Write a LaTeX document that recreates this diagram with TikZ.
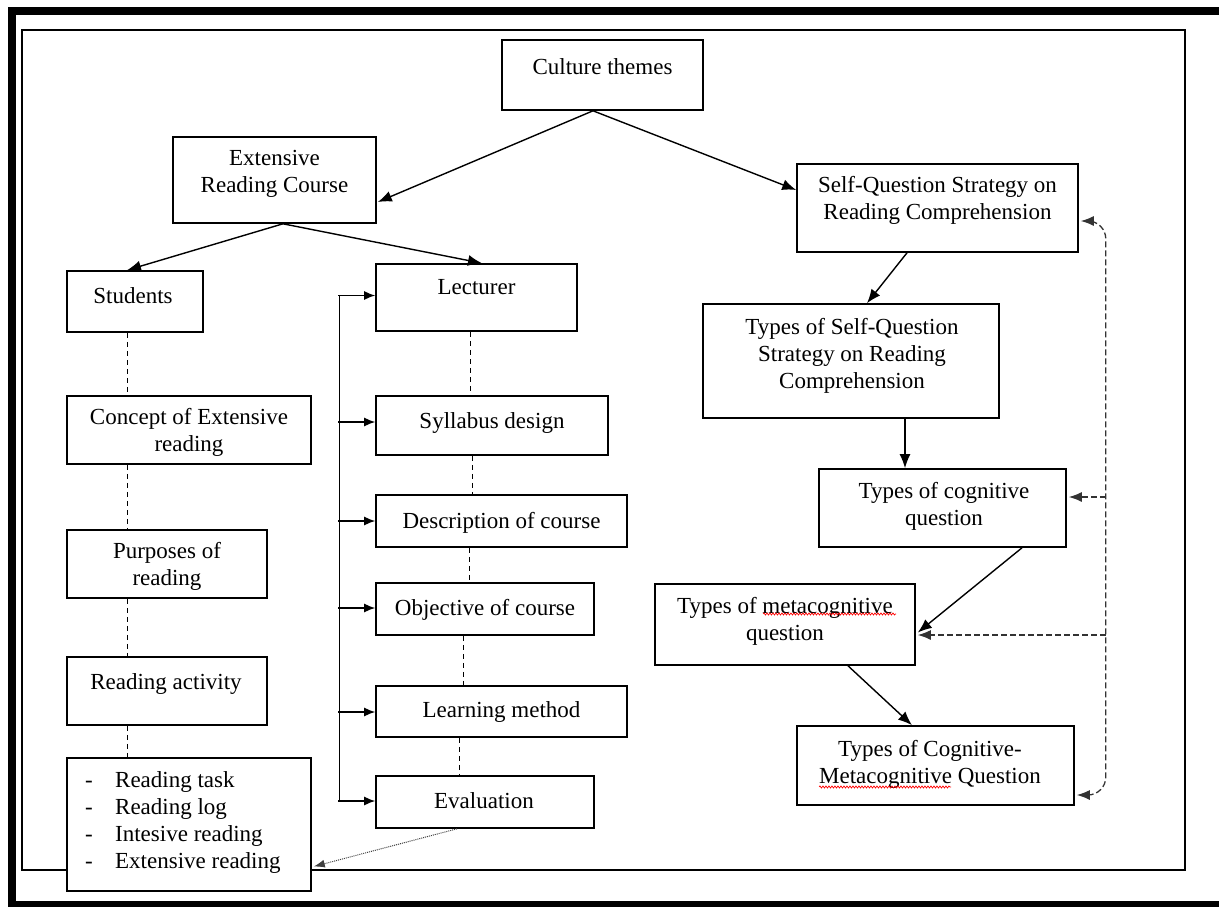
\documentclass[tikz,border=0pt]{standalone}
\usepackage{fontspec}
\setmainfont{Liberation Serif}
\usetikzlibrary{arrows.meta,calc,decorations.pathmorphing}
\begin{document}
\begin{tikzpicture}[x=1pt,y=-1pt,
  box/.style={draw, line width=1.6pt, fill=white, inner sep=0pt},
  txt/.style={anchor=north, align=center, inner sep=0pt, font=\fontsize{23}{27}\selectfont},
  arr/.style={line width=1.4pt, -{Latex[length=14pt,width=11pt]}},
  barr/.style={line width=1.4pt, -{Latex[length=11pt,width=9pt]}},
  dsh/.style={line width=1pt, dash pattern=on 5pt off 4pt},
  loop/.style={line width=1.3pt, dash pattern=on 6pt off 3pt, black!80},
  ltip/.style={-{Latex[length=13pt,width=10pt]}},
  btip/.style={{Latex[length=13pt,width=10pt]}-{Latex[length=13pt,width=10pt]}},
  squig/.style={red, line width=0.7pt, decorate, decoration={snake, amplitude=1pt, segment length=3pt}}
]
\path[use as bounding box] (0,0) rectangle (1219,907);
\clip (0,0) rectangle (1219,907);
% frames
\draw[line width=8pt] (1240,11) -- (12,11) -- (12,905) -- (1240,905);
\draw[line width=2pt] (22,30) rectangle (1185,870);

% boxes
\node[box, minimum width=201pt, minimum height=70pt] (culture) at (602.5,75) {};
\node[box, minimum width=203pt, minimum height=86pt] (erc) at (274.5,180) {};
\node[box, minimum width=281pt, minimum height=88pt] (sq) at (937.5,208) {};
\node[box, minimum width=136pt, minimum height=61pt] (students) at (135,301.5) {};
\node[box, minimum width=201pt, minimum height=67pt] (lecturer) at (476.5,297.5) {};
\node[box, minimum width=244pt, minimum height=68pt] (concept) at (189,430) {};
\node[box, minimum width=232pt, minimum height=59pt] (syllabus) at (492,425.5) {};
\node[box, minimum width=251pt, minimum height=52pt] (desc) at (501.5,521) {};
\node[box, minimum width=218pt, minimum height=52pt] (obj) at (485,609) {};
\node[box, minimum width=251pt, minimum height=51pt] (learn) at (501.5,711.5) {};
\node[box, minimum width=218pt, minimum height=52pt] (eval) at (485,802) {};
\node[box, minimum width=200pt, minimum height=68pt] (purposes) at (167,564) {};
\node[box, minimum width=200pt, minimum height=68pt] (ra) at (167,691) {};
\node[box, minimum width=244pt, minimum height=133pt] (list) at (189,824.5) {};
\node[box, minimum width=296pt, minimum height=114pt] (tsq) at (851,361) {};
\node[box, minimum width=247pt, minimum height=78pt] (cog) at (942.5,508) {};
\node[box, minimum width=260pt, minimum height=81pt] (meta) at (785,624.5) {};
\node[box, minimum width=277pt, minimum height=79pt] (cm) at (935.5,765.5) {};

% texts
\node[txt] (tculture) at (602.5,58) {Culture themes};
\node[txt] (terc) at (274.5,150) {Extensive\\Reading Course};
\node[txt] (tsqt) at (937.5,176) {Self-Question Strategy on\\Reading Comprehension};
\node[txt] (tstudents) at (133,287) {Students};
\node[txt] (tlecturer) at (476.5,279) {Lecturer};
\node[txt] (tconcept) at (189,408) {Concept of Extensive\\reading};
\node[txt] (tsyllabus) at (492,412) {Syllabus design};
\node[txt] (tdesc) at (501.5,512) {Description of course};
\node[txt] (tobj) at (485,599) {Objective of course};
\node[txt] (tlearn) at (501.5,701) {Learning method};
\node[txt] (teval) at (484,792) {Evaluation};
\node[txt] (tpurposes) at (167,542) {Purposes of\\reading};
\node[txt] (tra) at (166,673) {Reading activity};
\node[txt] (ttsq) at (852,318) {Types of Self-Question\\Strategy on Reading\\Comprehension};
\node[txt] (tcog) at (944,482) {Types of cognitive\\question};
\node[txt] (tmeta) at (785,597) {Types of metacognitive\\question};
\node[txt] (tcm) at (930,740) {Types of Cognitive-\\Metacognitive Question};
\node[txt, anchor=north west, align=left] (tlist) at (85,771)
  {\makebox[30pt][l]{-}Reading task\\\makebox[30pt][l]{-}Reading log\\\makebox[30pt][l]{-}Intesive reading\\\makebox[30pt][l]{-}Extensive reading};

% spell-check squiggles
\draw[squig] (763,614) -- (896,614);
\draw[squig] (819,787) -- (951,787);

% solid arrows
\draw[arr] ($(culture.south)+(-9.5,0)$) -- ($(erc.east)+(1,22)$);
\draw[arr] ($(culture.south)+(-9.5,0)$) -- ($(sq.west)+(0,-18)$);
\draw[arr] ($(erc.south)+(8.5,0)$) -- ($(students.north)+(-8,0)$);
\draw[arr] ($(erc.south)+(8.5,0)$) -- ($(lecturer.north)+(5.5,0)$);
\draw[arr] ($(sq.south)+(-30.5,0)$) -- ($(tsq.north)+(16,0)$);
\draw[arr] ($(tsq.south)+(54,0)$) -- ($(cog.north)+(-37.5,0)$);
\draw[arr] ($(cog.south)+(79.5,0)$) -- ($(meta.east)+(2,8)$);
\draw[arr] ($(meta.south)+(63,0)$) -- ($(cm.north)+(-23.5,0)$);
\draw[line width=1pt, densely dotted, black!75, -{Latex[length=11pt,width=8pt]}] ($(eval.south)+(-28,0)$) -- ($(list.east)+(2,42)$);

% dashed vertical links, student column
\draw[dsh] ($(students.south)+(-8,0)$) -- ($(concept.north)+(-62,0)$);
\draw[dsh] ($(concept.south)+(-62,0)$) -- ($(purposes.north)+(-40,0)$);
\draw[dsh] ($(purposes.south)+(-40,0)$) -- ($(ra.north)+(-40,0)$);
\draw[dsh] ($(ra.south)+(-40,0)$) -- ($(list.north)+(-62,0)$);
% dashed vertical links, lecturer column
\draw[dsh] ($(lecturer.south)+(-6.5,0)$) -- ($(syllabus.north)+(-22,0)$);
\draw[dsh] ($(syllabus.south)+(-20,0)$) -- ($(desc.north)+(-29.5,0)$);
\draw[dsh] ($(desc.south)+(-32.5,0)$) -- ($(obj.north)+(-16,0)$);
\draw[dsh] ($(obj.south)+(-22,0)$) -- ($(learn.north)+(-38.5,0)$);
\draw[dsh] ($(learn.south)+(-42.5,0)$) -- ($(eval.north)+(-26,0)$);

% lecturer bracket
\draw[line width=1.4pt] ($(lecturer.west)+(-36,-2)$) -- ($(eval.west)+(-36,-1)$);
\draw[barr] ($(lecturer.west)+(-37,-2)$) -- ($(lecturer.west)+(0,-2)$);
\draw[barr] ($(syllabus.west)+(-37,-3.5)$) -- ($(syllabus.west)+(0,-3.5)$);
\draw[barr] ($(desc.west)+(-37,0)$) -- ($(desc.west)+(0,0)$);
\draw[barr] ($(obj.west)+(-37,-1)$) -- ($(obj.west)+(0,-1)$);
\draw[barr] ($(learn.west)+(-37,0.5)$) -- ($(learn.west)+(0,0.5)$);
\draw[barr] ($(eval.west)+(-37,-1)$) -- ($(eval.west)+(0,-1)$);

% right dashed feedback loop
\draw[loop, rounded corners=18pt, btip] ($(sq.east)+(2,13)$) -- ($(sq.east)+(27,13)$) -- ($(cm.east)+(31,29.5)$) -- ($(cm.east)+(2,29.5)$);
\draw[loop, ltip] ($(cog.east)+(39,-11)$) -- ($(cog.east)+(2,-11)$);
\draw[loop, ltip] ($(meta.east)+(190,10.5)$) -- ($(meta.east)+(2,10.5)$);
\end{tikzpicture}
\end{document}
